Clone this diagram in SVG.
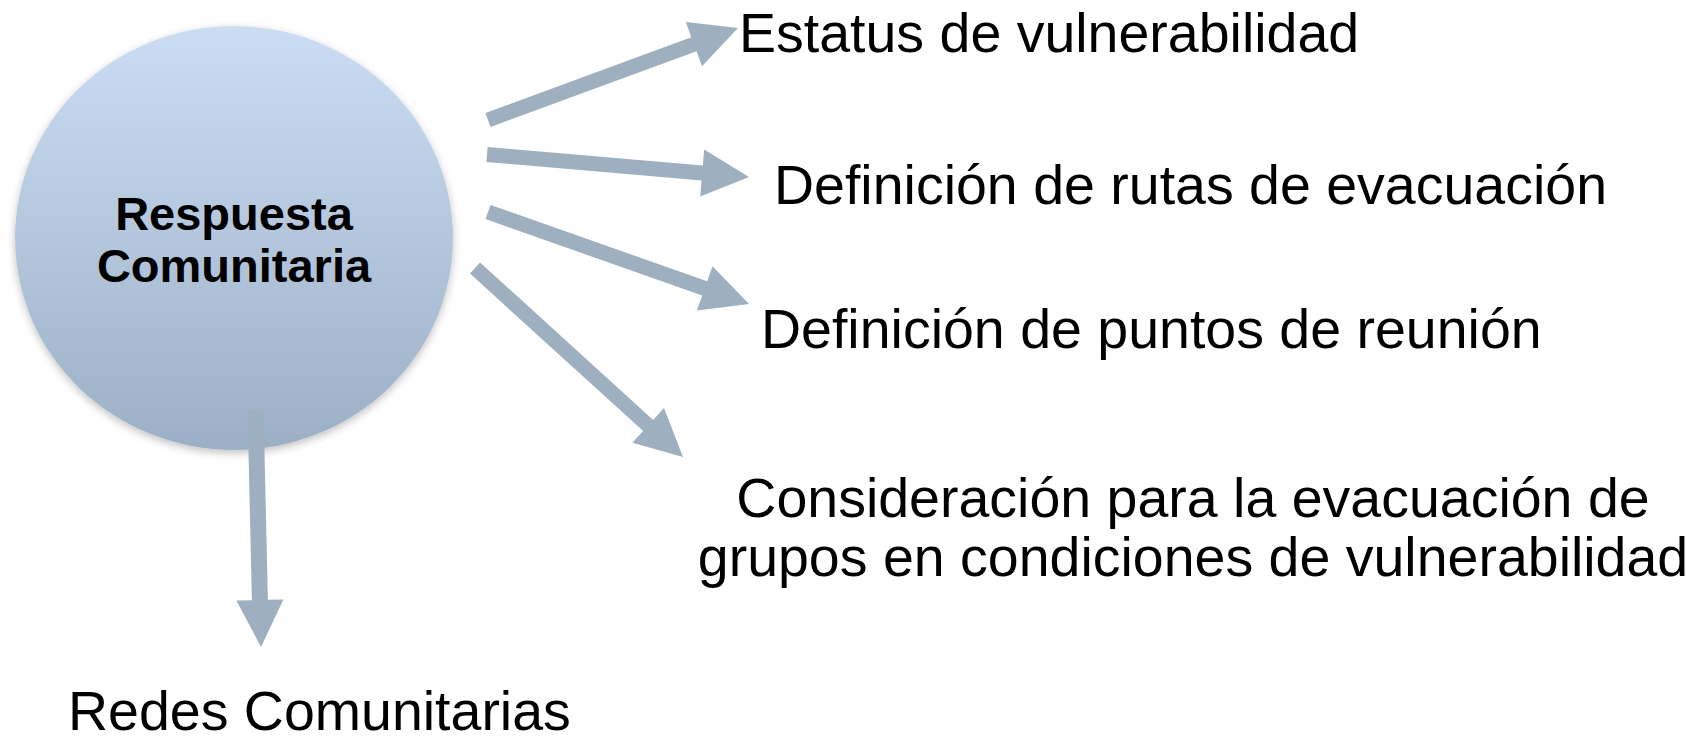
<svg xmlns="http://www.w3.org/2000/svg" width="1704" height="737" viewBox="0 0 1704 737">
<style>
.lbl{font-family:"Liberation Sans",Arial,sans-serif;font-size:55.5px;fill:#000}
.ctr{font-family:"Liberation Sans",Arial,sans-serif;font-size:47px;font-weight:bold;fill:#000;text-anchor:middle}
.arr{fill:#9eafc0}
</style>
<defs>
<linearGradient id="g" x1="0" y1="0" x2="0" y2="1">
<stop offset="0" stop-color="#cbddf2"/>
<stop offset="1" stop-color="#9cb0c5"/>
</linearGradient>
<filter id="sh" x="-20%" y="-20%" width="140%" height="140%">
<feGaussianBlur in="SourceAlpha" stdDeviation="4"/>
<feOffset dx="0" dy="3" result="b"/>
<feComponentTransfer><feFuncA type="linear" slope="0.25"/></feComponentTransfer>
<feMerge><feMergeNode/><feMergeNode in="SourceGraphic"/></feMerge>
</filter>
</defs>
<rect width="1704" height="737" fill="#fff"/>
<g id="node-respuesta">
<ellipse cx="234" cy="238" rx="219" ry="212" fill="url(#g)" filter="url(#sh)"/>
<text class="ctr" x="234" y="230">Respuesta</text>
<text class="ctr" x="234" y="282">Comunitaria</text>
</g>
<g id="connectors">
<polygon class="arr" points="485.4,113.0 691.3,37.2 685.8,22.1 738,28 702.0,66.3 696.5,51.2 490.6,127.0"/>
<polygon class="arr" points="487.6,147.0 702.8,165.5 704.2,149.6 749,177 700.2,196.4 701.6,180.5 486.4,162.0"/>
<polygon class="arr" points="490.5,204.9 707.2,281.3 712.5,266.2 749,304 696.9,310.6 702.2,295.5 485.5,219.1"/>
<polygon class="arr" points="480.0,262.4 653.2,419.9 664.0,408.0 683,457 632.4,442.8 643.2,431.0 470.0,273.6"/>
<polygon class="arr" points="263.5,408.8 267.9,599.8 283.4,599.5 261,647 236.4,600.5 251.9,600.2 247.5,409.2"/>
</g>
<g id="node-estatus"><text class="lbl" x="739" y="52">Estatus de vulnerabilidad</text></g>
<g id="node-rutas"><text class="lbl" x="774" y="204">Definición de rutas de evacuación</text></g>
<g id="node-puntos"><text class="lbl" x="761" y="348">Definición de puntos de reunión</text></g>
<g id="node-consideracion">
<text class="lbl" x="1193" y="517" text-anchor="middle">Consideración para la evacuación de</text>
<text class="lbl" x="1193" y="576" text-anchor="middle">grupos en condiciones de vulnerabilidad</text>
</g>
<g id="node-redes"><text class="lbl" x="68" y="730">Redes Comunitarias</text></g>
</svg>
